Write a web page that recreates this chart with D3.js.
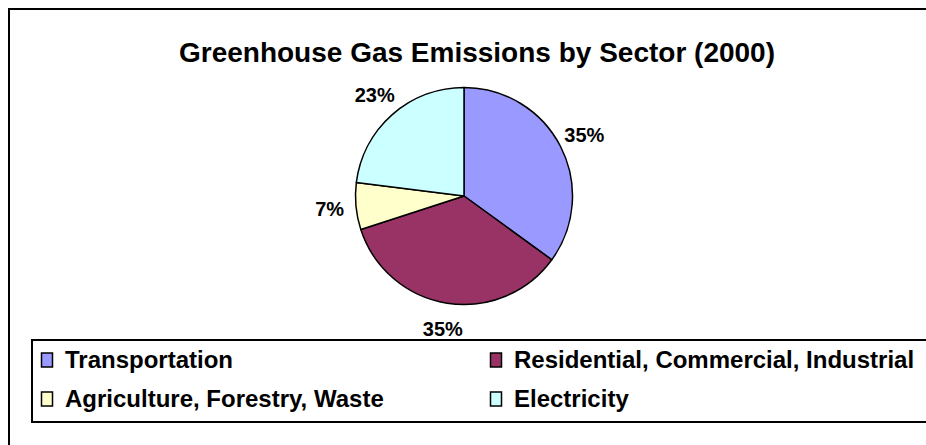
<!DOCTYPE html>
<html>
<head>
<meta charset="utf-8">
<script src="https://cdn.jsdelivr.net/npm/d3@7"></script>
<style>
  body { margin: 0; background: #fff; }
  text { font-family: "Liberation Sans", Arial, sans-serif; font-weight: bold; fill: #000; }
</style>
</head>
<body>
<svg id="chart" width="926" height="445"></svg>
<script>
// Chart data
const sectors = ["Transportation", "Residential, Commercial, Industrial", "Agriculture, Forestry, Waste", "Electricity"];
const shares = [35, 35, 7, 23];
const sectorColors = ["#9999FF", "#993366", "#FFFFCC", "#CCFFFF"];
const chartTitle = "Greenhouse Gas Emissions by Sector (2000)";

const svg = d3.select("#chart");

// Outer chart border (right and bottom edges run off the picture)
svg.append("rect")
  .attr("x", 9).attr("y", 9)
  .attr("width", 940).attr("height", 460)
  .attr("fill", "none")
  .attr("stroke", "#000")
  .attr("stroke-width", 2);

// Title
svg.append("text")
  .attr("x", 477)
  .attr("y", 62)
  .attr("text-anchor", "middle")
  .attr("font-size", "28px")
  .text(chartTitle);

// Pie
const cx = 464, cy = 196, radius = 108.5;
const pie = d3.pie().sort(null).value(d => d.value);
const arcs = pie(sectors.map((s, i) => ({ name: s, value: shares[i] })));
const arc = d3.arc().innerRadius(0).outerRadius(radius);
const labelArc = d3.arc().innerRadius(135).outerRadius(135);
const color = d3.scaleOrdinal().domain(sectors).range(sectorColors);

const g = svg.append("g").attr("transform", `translate(${ cx }, ${ cy })`);

g.selectAll("path")
  .data(arcs)
  .enter()
  .append("path")
  .attr("d", arc)
  .attr("fill", d => color(d.data.name))
  .attr("stroke", "#000")
  .attr("stroke-width", 1.5)
  .attr("stroke-linejoin", "round");

g.selectAll("text.lbl")
  .data(arcs)
  .enter()
  .append("text")
  .attr("class", "lbl")
  .attr("transform", d => `translate(${ labelArc.centroid(d) })`)
  .attr("text-anchor", "middle")
  .attr("dy", "0.35em")
  .attr("font-size", "20px")
  .text(d => d.data.value + "%");

// Legend box (right edge runs off the picture)
svg.append("rect")
  .attr("x", 32).attr("y", 340)
  .attr("width", 920).attr("height", 82)
  .attr("fill", "#fff")
  .attr("stroke", "#000")
  .attr("stroke-width", 2);

const legendCols = [41, 490];
const legendRows = [368, 407];

const items = svg.selectAll("g.legend")
  .data(sectors)
  .enter()
  .append("g")
  .attr("class", "legend")
  .attr("transform", (d, i) => `translate(${ legendCols[i % 2] }, ${ legendRows[Math.floor(i / 2)] })`);

items.append("rect")
  .attr("x", 0.5).attr("y", -15)
  .attr("width", 11).attr("height", 14)
  .attr("fill", d => color(d))
  .attr("stroke", "#000")
  .attr("stroke-width", 1.5);

items.append("text")
  .attr("x", 24)
  .attr("y", 0)
  .attr("font-size", "24px")
  .text(d => d);
</script>
</body>
</html>
